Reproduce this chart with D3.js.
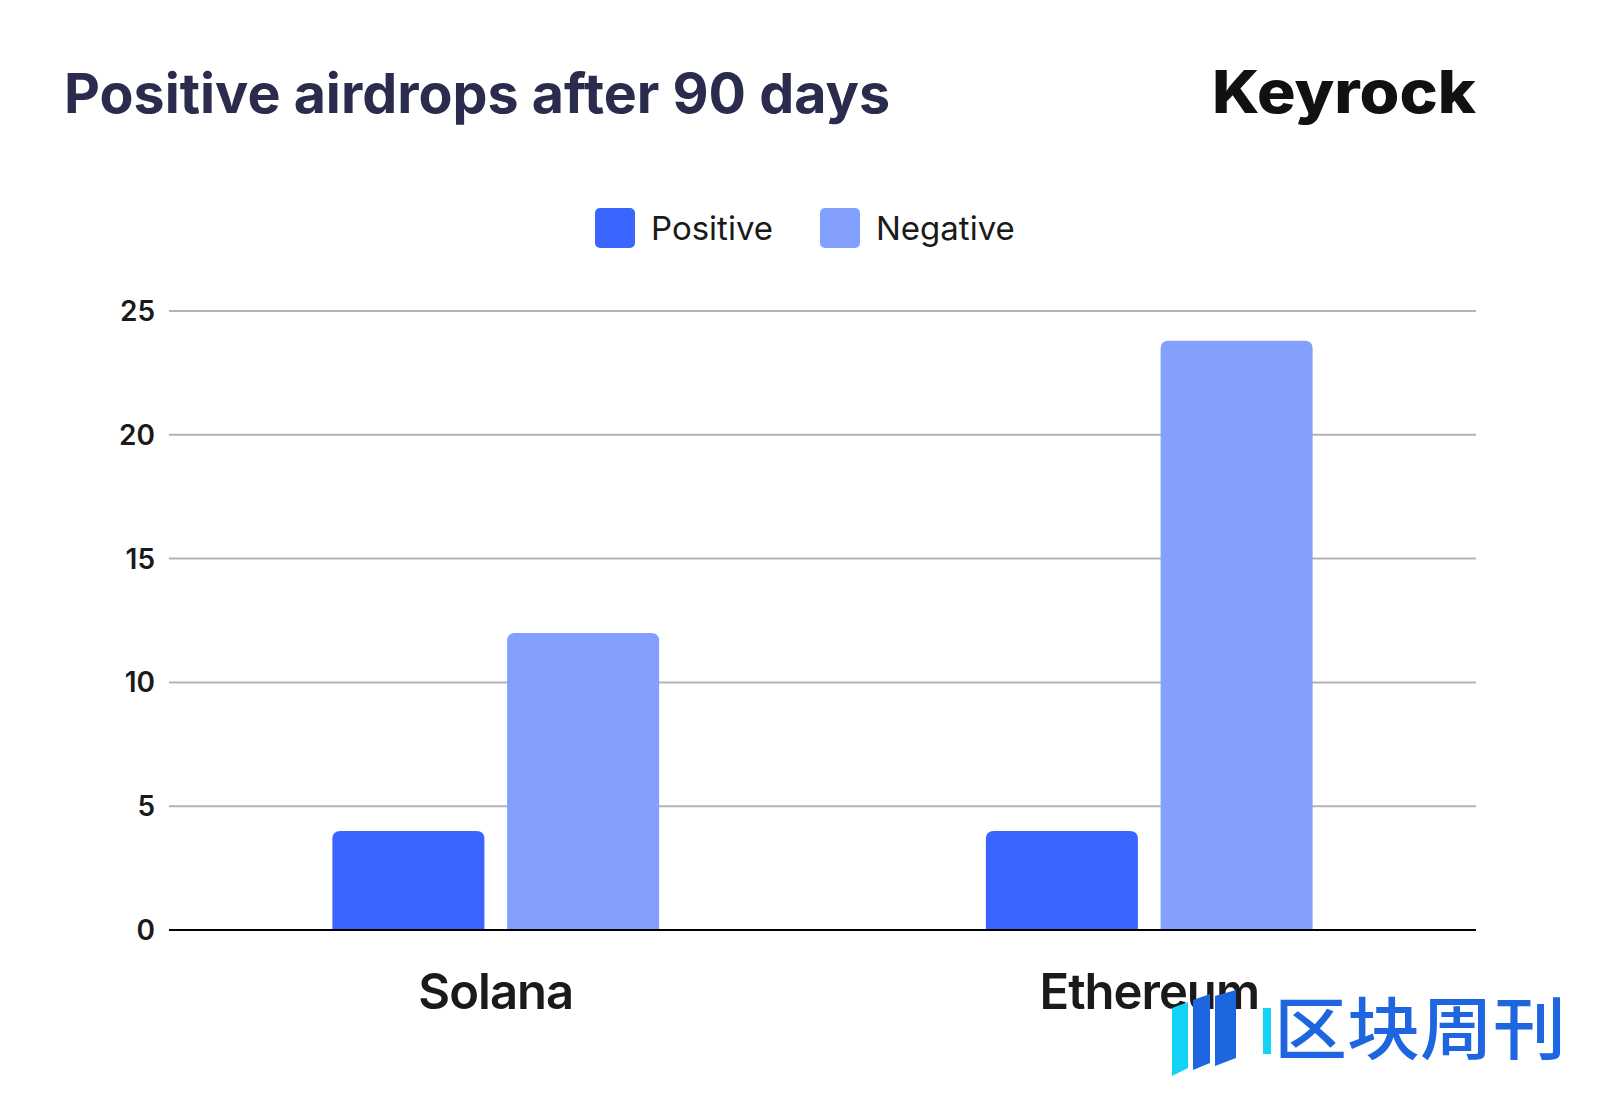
<!DOCTYPE html>
<html lang="en">
<head>
<meta charset="UTF-8">
<title>Positive airdrops after 90 days</title>
<script src="https://cdnjs.cloudflare.com/ajax/libs/d3/7.8.5/d3.min.js"></script>
<style>
  html, body { margin: 0; padding: 0; background: #fff; }
  svg { display: block; }
</style>
</head>
<body>
<div id="chart"></div>
<script>
// data
var categories = ["Solana", "Ethereum"];
var seriesNames = ["Positive", "Negative"];
var positiveValues = [4, 4];
var negativeValues = [12, 23.8];
var yTicks = [0, 5, 10, 15, 20, 25];

var colors = { Positive: "#3a66ff", Negative: "#83a0ff" };

var w = 1600, h = 1098;
var plotLeft = 169, plotRight = 1476, plotTop = 311, plotBottom = 930;

var svg = d3.select("#chart").append("svg")
    .attr("width", w)
    .attr("height", h);

svg.append("rect").attr("width", w).attr("height", h).attr("fill", "#fff");

// title and logo
svg.append("text")
    .attr("x", 64).attr("y", 113)
    .attr("font-family", "Inter, sans-serif")
    .attr("font-weight", 700)
    .attr("font-size", 55)
    .attr("fill", "#2a2b4d")
    .attr("textLength", 826)
    .attr("lengthAdjust", "spacingAndGlyphs")
    .text("Positive airdrops after 90 days");

svg.append("text")
    .attr("x", 1212).attr("y", 113)
    .attr("font-family", "Inter, sans-serif")
    .attr("font-weight", 800)
    .attr("font-size", 59)
    .attr("fill", "#111")
    .attr("textLength", 264)
    .attr("lengthAdjust", "spacingAndGlyphs")
    .text("Keyrock");

// scales
var x0 = d3.scaleBand().domain(categories).range([plotLeft, plotRight])
    .paddingInner(0.5).paddingOuter(0.25);
var x1 = d3.scaleBand().domain(seriesNames).range([0, x0.bandwidth()])
    .paddingInner(0.13);
var y = d3.scaleLinear().domain([0, 25]).range([plotBottom, plotTop]);

// gridlines
svg.append("g").selectAll("line")
    .data(yTicks.filter(function(d) { return d > 0; }))
    .enter().append("line")
    .attr("x1", plotLeft).attr("x2", plotRight)
    .attr("y1", function(d) { return y(d); })
    .attr("y2", function(d) { return y(d); })
    .attr("stroke", "#b3b3b3")
    .attr("stroke-width", 2);

// y tick labels
svg.append("g").selectAll("text")
    .data(yTicks)
    .enter().append("text")
    .attr("x", 155)
    .attr("y", function(d) { return y(d); })
    .attr("dy", "0.36em")
    .attr("text-anchor", "end")
    .attr("font-family", "Inter, sans-serif")
    .attr("font-weight", 600)
    .attr("font-size", 28)
    .attr("fill", "#1a1a1a")
    .text(function(d) { return d; });

// bars with rounded top corners
function topRounded(x, yTop, width, yBase, r) {
    r = Math.min(r, (yBase - yTop) / 2, width / 2);
    return "M" + x + "," + yBase +
        "V" + (yTop + r) +
        "Q" + x + "," + yTop + " " + (x + r) + "," + yTop +
        "H" + (x + width - r) +
        "Q" + (x + width) + "," + yTop + " " + (x + width) + "," + (yTop + r) +
        "V" + yBase + "Z";
}

var barData = [];
categories.forEach(function(c, i) {
    barData.push({ cat: c, series: "Positive", value: positiveValues[i] });
    barData.push({ cat: c, series: "Negative", value: negativeValues[i] });
});

svg.append("g").selectAll("path")
    .data(barData)
    .enter().append("path")
    .attr("d", function(d) {
        return topRounded(x0(d.cat) + x1(d.series), y(d.value), x1.bandwidth(), y(0), 8);
    })
    .attr("fill", function(d) { return colors[d.series]; });

// baseline
svg.append("line")
    .attr("x1", plotLeft).attr("x2", plotRight)
    .attr("y1", y(0)).attr("y2", y(0))
    .attr("stroke", "#000")
    .attr("stroke-width", 2);

// category labels
svg.append("g").selectAll("text")
    .data(categories)
    .enter().append("text")
    .attr("x", function(d) { return x0(d) + x0.bandwidth() / 2; })
    .attr("y", 1009)
    .attr("text-anchor", "middle")
    .attr("font-family", "Inter, sans-serif")
    .attr("font-weight", 600)
    .attr("font-size", 49)
    .attr("letter-spacing", -1)
    .attr("fill", "#1a1a1a")
    .text(function(d) { return d; });

// legend
var legendX = [595, 820];
var legend = svg.append("g").selectAll("g")
    .data(seriesNames)
    .enter().append("g")
    .attr("transform", function(d, i) { return "translate(" + legendX[i] + ",208)"; });

legend.append("rect")
    .attr("width", 40).attr("height", 40)
    .attr("rx", 5)
    .attr("fill", function(d) { return colors[d]; });

legend.append("text")
    .attr("x", 56).attr("y", 32)
    .attr("font-family", "Inter, sans-serif")
    .attr("font-size", 33)
    .attr("fill", "#1a1a1a")
    .text(function(d) { return d; });

// watermark in the lower right corner
var wm = svg.append("g");
wm.append("path").attr("d", "M1172,1008 L1188,1002 L1188,1068 L1172,1076 Z").attr("fill", "#14d2f5");
wm.append("path").attr("d", "M1193,1000 L1210,994 L1210,1063 L1193,1070 Z").attr("fill", "#1e66e0");
wm.append("path").attr("d", "M1215,996 L1236,990 L1236,1058 L1215,1066 Z").attr("fill", "#1e66e0");
wm.append("rect").attr("x", 1263).attr("y", 1008).attr("width", 8).attr("height", 46).attr("fill", "#14d2f5");
wm.append("text")
    .attr("x", 1274).attr("y", 1054)
    .attr("font-family", "'Noto Sans CJK SC', sans-serif")
    .attr("font-weight", 500)
    .attr("font-size", 68)
    .attr("fill", "#1e66e0")
    .attr("textLength", 292)
    .attr("lengthAdjust", "spacingAndGlyphs")
    .text("区块周刊");
</script>
</body>
</html>
